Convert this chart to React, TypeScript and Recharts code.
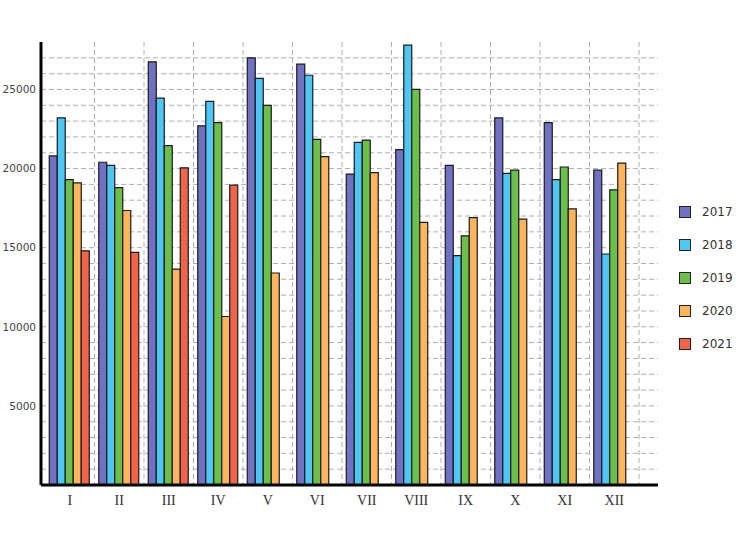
import React from 'react';
import { BarChart, Bar, XAxis, YAxis, CartesianGrid } from 'recharts';

const months = ['I', 'II', 'III', 'IV', 'V', 'VI', 'VII', 'VIII', 'IX', 'X', 'XI', 'XII'];

const y2017 = [20800, 20400, 26750, 22700, 27000, 26600, 19650, 21200, 20200, 23200, 22900, 19900];
const y2018 = [23200, 20200, 24450, 24250, 25700, 25900, 21650, 27800, 14500, 19700, 19300, 14600];
const y2019 = [19300, 18800, 21450, 22900, 24000, 21850, 21800, 25000, 15750, 19900, 20100, 18650];
const y2020 = [19100, 17350, 13650, 10650, 13400, 20750, 19750, 16600, 16900, 16800, 17450, 20350];
const y2021 = [14800, 14700, 20050, 18950, null, null, null, null, null, null, null, null];

const series = [
  { key: 'y2017', name: '2017', values: y2017, color: '#7171c4' },
  { key: 'y2018', name: '2018', values: y2018, color: '#4fc6f3' },
  { key: 'y2019', name: '2019', values: y2019, color: '#6dbf4b' },
  { key: 'y2020', name: '2020', values: y2020, color: '#fdb45f' },
  { key: 'y2021', name: '2021', values: y2021, color: '#f0644b' },
];

const Y_MAX = 28000;
const gridTicks = Array.from({ length: 27 }, (_, i) => (i + 1) * 1000);

const data = months.map((m, i) => {
  const row: Record<string, string | number | null> = { month: m };
  series.forEach((s) => {
    row[s.key] = s.values[i];
  });
  return row;
});

const PAD_L = 4;
const PAD_R = 19;

export default function App() {
  return (
    <div style={{ position: 'absolute', left: 0, top: 0, width: 744, height: 557, background: '#fff' }}>
      <BarChart
        width={744}
        height={557}
        data={data}
        margin={{ top: 42, right: 86, left: 0, bottom: 42 }}
        barCategoryGap="8.6%"
        barGap={0}
      >
        <CartesianGrid
          stroke="#b0b0b0"
          strokeDasharray="5 3"
          horizontalCoordinatesGenerator={({ offset }: any) =>
            gridTicks.map((t) => offset.top + offset.height * (1 - t / Y_MAX))
          }
          verticalCoordinatesGenerator={({ offset }: any) => {
            const band = (offset.width - PAD_L - PAD_R) / months.length;
            return months.map((_, i) => offset.left + PAD_L + (i + 1) * band);
          }}
        />
        <XAxis
          dataKey="month"
          padding={{ left: PAD_L, right: PAD_R }}
          axisLine={{ stroke: '#000', strokeWidth: 3 }}
          tickLine={false}
          tickMargin={4}
          height={30}
          interval={0}
          tick={{ fill: '#333', fontSize: 14, fontFamily: 'Liberation Serif' }}
        />
        <YAxis
          width={41}
          domain={[0, Y_MAX]}
          ticks={gridTicks}
          interval={0}
          allowDataOverflow
          axisLine={{ stroke: '#000', strokeWidth: 3 }}
          tickLine={false}
          tickSize={3}
          tickMargin={2}
          tickFormatter={(v: number) => (v % 5000 === 0 ? String(v) : '')}
          tick={{ fill: '#444', fontSize: 10.5, fontFamily: 'DejaVu Sans' }}
        />
        {series.map((s) => (
          <Bar
            key={s.key}
            dataKey={s.key}
            name={s.name}
            fill={s.color}
            stroke="#1a1a1a"
            strokeWidth={1.2}
            isAnimationActive={false}
          />
        ))}
      </BarChart>
      <div style={{ position: 'absolute', left: 679, top: 195, fontFamily: 'DejaVu Sans', fontSize: 12, color: '#333' }}>
        {series.map((s) => (
          <div key={s.key} style={{ display: 'flex', alignItems: 'center', height: 33 }}>
            <span
              style={{
                display: 'inline-block',
                width: 10,
                height: 10,
                background: s.color,
                border: '1px solid #222',
                marginRight: 11,
              }}
            />
            <span>{s.name}</span>
          </div>
        ))}
      </div>
    </div>
  );
}
